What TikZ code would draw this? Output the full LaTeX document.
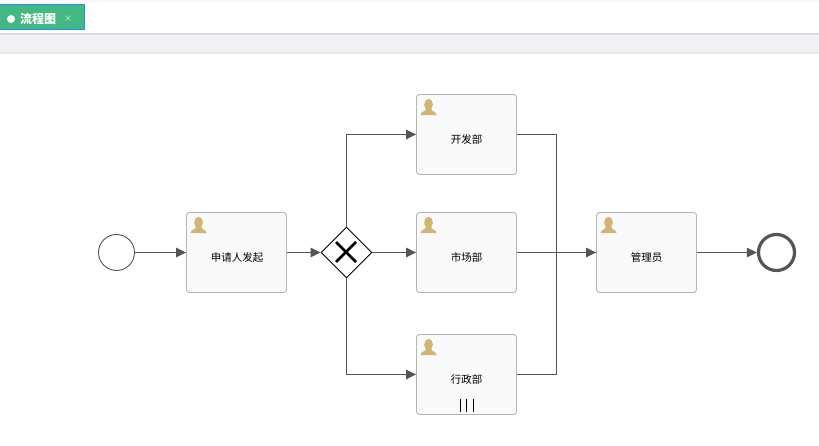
\documentclass[tikz,border=0pt]{standalone}
\usepackage{fontspec}
\usepackage{xcolor}
\newfontfamily\cjk{Noto Sans CJK SC}
\usetikzlibrary{arrows, arrows.meta}
\usetikzlibrary{shapes.geometric}
\usetikzlibrary{positioning}
\definecolor{flowline}{HTML}{555555}
\definecolor{taskfill}{HTML}{F9F9F9}
\definecolor{taskline}{HTML}{B4B4B4}
\definecolor{personcol}{HTML}{D1B574}
\definecolor{tabgreen}{HTML}{42B983}
\definecolor{tabblue}{HTML}{1E90FF}
\definecolor{bandcol}{HTML}{F0F0F5}
\tikzset{
	tasknode/.style={draw=taskline, fill=taskfill, rounded corners=3pt, line width=.9pt, minimum width=100pt, minimum height=80pt, inner sep=0pt},
	tasktext/.style={font=\cjk\fontsize{10.5}{12}\selectfont, text=black, inner sep=0pt},
	gatenode/.style={draw=black, fill=white, diamond, aspect=1, minimum width=51pt, minimum height=51pt, inner sep=0pt, line width=.9pt},
	startnode/.style={draw=flowline, fill=white, circle, minimum size=36pt, inner sep=0pt, line width=.9pt},
	endnode/.style={draw=flowline, fill=white, circle, minimum size=36pt, inner sep=0pt, line width=3.2pt},
	flow/.style={draw=flowline, line width=.9pt, -{Triangle[length=10pt,width=9.5pt]}},
	flowplain/.style={draw=flowline, line width=.9pt},
	person/.pic={
		\fill[personcol] (0,-2.6) ellipse (4.4 and 5.6);
		\fill[personcol] (-8,8) .. controls (-8,4.5) and (-3,5) .. (-2.5,1.5) -- (2.5,1.5) .. controls (3,5) and (8,4.5) .. (8,8) -- cycle;
	}
}
\begin{document}
\begin{tikzpicture}[x=1pt,y=-1pt]
	\useasboundingbox (0,0) rectangle (819,446);
	%top bars
	\fill[black!2] (0,0) rectangle (819,3);
	\fill[black!14] (0,33) rectangle (819,35);
	\fill[bandcol] (0,35) rectangle (819,52);
	\fill[black!9] (0,52) rectangle (819,54);
	%tab
	\fill[tabgreen] (0,4) rectangle (85,30);
	\draw[tabblue, line width=1pt] (0,4.5) -- (84.5,4.5) -- (84.5,29.5) -- (0,29.5);
	\fill[white] (11,19) circle (4);
	\node[font=\cjk\bfseries\fontsize{12}{14}\selectfont, text=white, inner sep=0pt] (tabtitle) at (38,18.5) {流程图};
	\node[font=\cjk\fontsize{8}{10}\selectfont, text=white!85!tabgreen, inner sep=0pt] (tabclose) at (68,19) {×};
	%events and gateway
	\node[startnode] (start) at (116.5,252.5) {};
	\node[gatenode] (gate) at (346.5,252.5) {};
	\node[endnode] (finish) at (776.5,252.5) {};
	%tasks
	\node[tasknode] (apply) at (236.5,252.5) {};
	\node[tasknode] (dev) at (466.5,134.5) {};
	\node[tasknode] (market) at (466.5,252.5) {};
	\node[tasknode] (admin) at (466.5,374.5) {};
	\node[tasknode] (manager) at (646.5,252.5) {};
	%task names
	\node[tasktext] (applytext) at (237,257.5) {申请人发起};
	\node[tasktext] (devtext) at (466.5,139.5) {开发部};
	\node[tasktext] (markettext) at (466.5,257.5) {市场部};
	\node[tasktext] (admintext) at (466.5,379.5) {行政部};
	\node[tasktext] (managertext) at (646.5,257.5) {管理员};
	%person icons
	\foreach \t in {apply,dev,market,admin,manager}{
		\pic at ([shift={(12.5,13)}]\t.north west) {person};
	}
	%gateway cross
	\draw[black, line width=2.8pt] (336,242) -- (356,262);
	\draw[black, line width=2.8pt] (336,262) -- (356,242);
	%multi instance bars
	\foreach \x in {460.5,466.5,473.5}{
		\draw[black, line width=1.3pt] (\x,399) -- (\x,412);
	}
	%connectors
	\coordinate (merge) at (556.5,252.5);
	\draw[flow] (start) -- (apply);
	\draw[flow] (apply) -- (gate);
	\draw[flow] (gate.north) |- (dev.west);
	\draw[flow] (gate) -- (market);
	\draw[flow] (gate.south) |- (admin.west);
	\draw[flowplain] (dev.east) -| (merge);
	\draw[flowplain] (admin.east) -| (merge);
	\draw[flow] (market) -- (manager);
	\draw[flow] (manager) -- (finish);
\end{tikzpicture}
\end{document}
